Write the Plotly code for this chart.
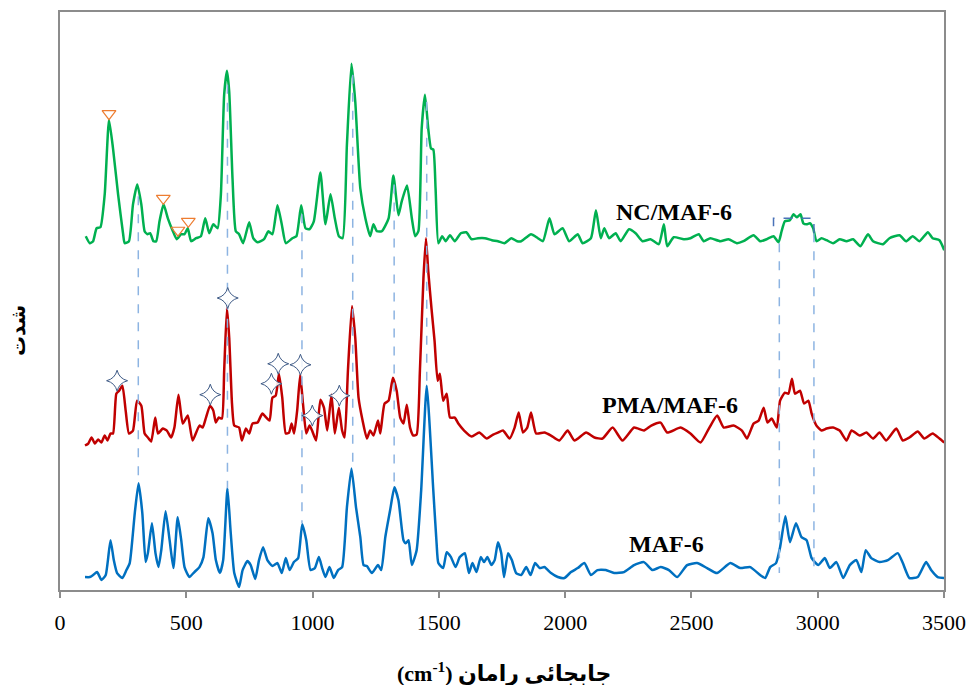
import plotly.graph_objects as go

# ---------------- data (Raman shift in cm-1, intensity in arbitrary units) ----------------
nc_wn = [102,118,131,145,160,177,194,210,230,250,256,273,289,306,322,335,346,357,370,381,394,410,427,447,462,480,493,506,519,539,558,575,591,607,624,637,650,661,670,683,696,709,725,749,765,782,808,825,841,861,878,894,920,936,955,972,988,1005,1031,1051,1071,1088,1104,1119,1136,1154,1169,1189,1209,1228,1241,1255,1274,1301,1320,1340,1353,1374,1393,1406,1419,1432,1445,1458,1469,1478,1487,1498,1513,1527,1544,1563,1587,1609,1629,1655,1682,1710,1734,1760,1787,1810,1826,1865,1892,1912,1938,1958,1990,2016,2050,2069,2102,2122,2141,2155,2174,2200,2220,2253,2279,2306,2338,2371,2391,2404,2430,2470,2496,2529,2549,2575,2614,2647,2680,2706,2746,2772,2798,2825,2845,2857,2870,2890,2904,2917,2932,2943,2956,2969,2982,2995,3015,3035,3061,3087,3114,3140,3169,3199,3219,3258,3284,3324,3350,3376,3403,3436,3455,3482,3501]
nc_int = [355,348,350,363,364,397,472,443,397,357,348,350,387,407,387,360,357,358,350,350,370,387,373,360,352,357,357,363,350,353,355,373,358,367,363,397,497,521,500,413,360,357,348,369,353,349,352,360,357,386,367,348,353,355,386,363,362,370,419,367,397,373,355,353,447,528,490,403,373,355,367,360,360,373,416,376,390,406,373,355,360,463,497,463,443,442,403,348,355,350,356,350,358,359,352,353,353,351,350,348,353,350,350,357,353,350,373,357,363,350,357,348,353,381,353,363,353,358,350,362,358,350,352,347,367,345,354,352,353,357,350,353,350,352,348,350,356,350,352,355,349,360,370,371,377,374,377,368,367,368,363,350,353,351,348,352,350,352,345,357,350,347,353,356,350,355,350,359,353,351,341]

pma_wn = [99,112,125,138,151,164,177,188,200,210,223,234,247,260,273,289,305,322,335,348,361,377,388,407,423,440,453,469,486,506,525,552,565,578,594,607,617,628,641,650,661,670,681,690,709,720,736,749,762,782,801,817,830,841,854,867,880,894,907,917,927,939,951,962,975,988,998,1014,1031,1045,1058,1075,1088,1104,1117,1127,1140,1156,1169,1182,1198,1215,1228,1241,1259,1268,1285,1301,1318,1333,1347,1360,1373,1386,1399,1412,1425,1439,1449,1458,1471,1483,1495,1504,1517,1531,1544,1563,1577,1600,1630,1660,1690,1715,1734,1754,1780,1800,1816,1833,1850,1865,1885,1918,1944,1977,2010,2037,2083,2116,2148,2188,2227,2273,2312,2341,2378,2404,2457,2496,2536,2569,2602,2628,2667,2700,2720,2746,2766,2786,2801,2818,2838,2851,2870,2884,2898,2910,2930,2946,2963,2976,2995,3015,3035,3061,3087,3114,3134,3166,3193,3219,3245,3271,3311,3337,3363,3396,3422,3455,3482,3501]
pma_int = [145,147,153,147,151,148,155,150,157,157,197,200,205,180,157,160,190,185,157,153,149,173,157,162,160,153,163,196,167,175,150,165,163,173,185,180,168,173,172,220,283,253,187,165,163,150,162,157,167,168,177,173,170,193,195,217,193,157,158,167,157,180,216,187,157,165,160,150,191,183,160,196,157,183,160,153,220,285,253,193,170,152,160,155,170,157,187,190,213,200,173,167,186,163,155,156,220,313,353,320,282,250,210,217,190,197,173,173,167,160,154,158,152,156,158,160,152,163,178,158,163,178,157,158,155,150,160,150,158,153,152,163,150,163,160,165,168,158,163,157,148,162,175,163,165,160,152,167,170,183,168,172,163,190,198,197,212,197,200,187,190,177,165,160,162,163,160,150,160,155,158,152,158,150,162,150,153,159,152,157,152,148]

maf_wn = [99,118,131,147,164,181,200,213,226,247,263,276,296,311,326,339,348,364,378,390,401,418,434,449,466,480,493,512,532,552,568,587,604,617,633,646,663,676,690,709,723,742,755,773,788,804,821,841,861,878,894,909,926,943,959,975,992,1009,1025,1038,1051,1067,1084,1101,1117,1136,1154,1172,1189,1202,1215,1235,1259,1272,1288,1307,1324,1340,1360,1369,1380,1393,1412,1430,1452,1478,1491,1498,1517,1531,1548,1566,1583,1603,1619,1633,1649,1666,1679,1692,1708,1721,1734,1747,1758,1774,1789,1806,1826,1846,1863,1881,1899,1918,1944,1971,1997,2023,2050,2076,2102,2128,2161,2194,2233,2273,2312,2345,2378,2411,2444,2483,2522,2562,2601,2654,2693,2733,2772,2792,2812,2835,2851,2872,2890,2914,2936,2956,2976,3002,3028,3048,3074,3101,3127,3153,3173,3190,3212,3245,3278,3317,3337,3363,3396,3429,3449,3475,3501]
maf_int = [13,13,15,18,10,15,50,30,17,12,20,27,77,107,77,28,37,67,37,23,40,79,50,22,73,50,23,13,18,23,33,72,57,30,17,30,102,57,17,3,20,29,25,11,30,43,30,24,27,17,32,20,28,32,66,50,20,22,33,22,13,23,12,20,23,83,122,83,53,25,24,17,25,20,53,80,103,90,50,47,50,25,40,100,205,100,47,27,22,38,33,23,33,37,17,27,18,33,28,33,25,30,48,37,13,37,30,17,15,23,15,27,22,23,17,13,12,18,22,27,15,20,20,17,18,25,28,20,23,20,13,25,27,22,17,27,22,23,15,12,23,27,43,74,48,67,53,50,32,25,32,22,28,12,25,30,18,40,32,28,30,37,27,12,13,28,20,13,12]

# peak markers
tri_wn = [194, 409, 467, 508]
tri_int = [478, 393, 361, 370]
star_wn = [226, 595, 664, 837, 864, 952, 999, 1106]
star_int = [210, 196, 293, 207, 227, 226, 175, 195]

# guide lines linking common bands
guide_wn = [310, 663, 958, 1159, 1323, 1452, 2848, 2985]
guide_top = [395, 507, 377, 517, 407, 490, 348, 358]
guide_bot = [107, 102, 67, 122, 103, 205, 17, 17]
box_wn = [2825, 2825, 2985, 2985]
box_int = [365, 373, 373, 358]

labels = ["NC/MAF-6", "PMA/MAF-6", "MAF-6"]
label_wn = [2432, 2414, 2400]
label_int = [379, 186, 46]

x_ticks = [0, 500, 1000, 1500, 2000, 2500, 3000, 3500]

fig = go.Figure()
for wn, it, col in [(nc_wn, nc_int, "#00B050"), (pma_wn, pma_int, "#C00000"), (maf_wn, maf_int, "#0070C0")]:
    fig.add_trace(go.Scatter(x=wn, y=it, mode="lines",
                             line=dict(color=col, width=2.5, shape="spline", smoothing=0.5),
                             hoverinfo="skip", showlegend=False))

gx, gy = [], []
for w, t, b in zip(guide_wn, guide_top, guide_bot):
    gx += [w, w, None]
    gy += [t, b, None]
fig.add_trace(go.Scatter(x=gx, y=gy, mode="lines",
                         line=dict(color="#8DB4E2", width=1.5, dash="dash"),
                         hoverinfo="skip", showlegend=False))
fig.add_trace(go.Scatter(x=box_wn, y=box_int, mode="lines",
                         line=dict(color="#4A72B8", width=1.5, dash="dash"),
                         hoverinfo="skip", showlegend=False))

fig.add_trace(go.Scatter(x=tri_wn, y=tri_int, mode="markers",
                         marker=dict(symbol="triangle-down-open", size=12, color="#ED7D31",
                                     line=dict(width=1.2, color="#ED7D31")),
                         hoverinfo="skip", showlegend=False))
fig.add_trace(go.Scatter(x=star_wn, y=star_int, mode="markers",
                         marker=dict(symbol="star-diamond", size=15, color="rgba(255,255,255,0.85)",
                                     line=dict(width=1, color="#3E5A86")),
                         hoverinfo="skip", showlegend=False))

for t, x, y in zip(labels, label_wn, label_int):
    fig.add_annotation(x=x, y=y, text="<b>%s</b>" % t, showarrow=False,
                       font=dict(family="Liberation Serif", size=24, color="black"),
                       xanchor="center", yanchor="middle")

fig.add_annotation(xref="paper", yref="paper", x=(506 - 60) / 888, y=-(672 - 590) / 580,
                   text="<b>(cm<sup>-1</sup>) جابجائی رامان</b>", showarrow=False,
                   font=dict(family="Liberation Serif, DejaVu Sans", size=22, color="black"),
                   xanchor="center", yanchor="middle")
fig.add_annotation(xref="paper", yref="paper", x=-(60 - 18) / 888, y=(590 - 330) / 580,
                   text="<b>شدت</b>", showarrow=False, textangle=-90,
                   font=dict(family="DejaVu Sans", size=20, color="black"),
                   xanchor="center", yanchor="middle")

fig.update_layout(
    width=976, height=685,
    margin=dict(l=60, r=28, t=10, b=95),
    paper_bgcolor="white", plot_bgcolor="white",
    xaxis=dict(range=[0, 3500], tickvals=x_ticks, ticks="outside", ticklen=6, tickwidth=1.5,
               tickcolor="#8c8c8c", showline=True, linecolor="#8c8c8c", linewidth=2, mirror=True,
               showgrid=False, zeroline=False, ticklabelstandoff=6,
               tickfont=dict(family="Liberation Serif", size=22, color="black")),
    yaxis=dict(range=[0, 580], showticklabels=False, ticks="", showline=True, linecolor="#8c8c8c",
               linewidth=2, mirror=True, showgrid=False, zeroline=False),
)

fig.write_html("out.html")
